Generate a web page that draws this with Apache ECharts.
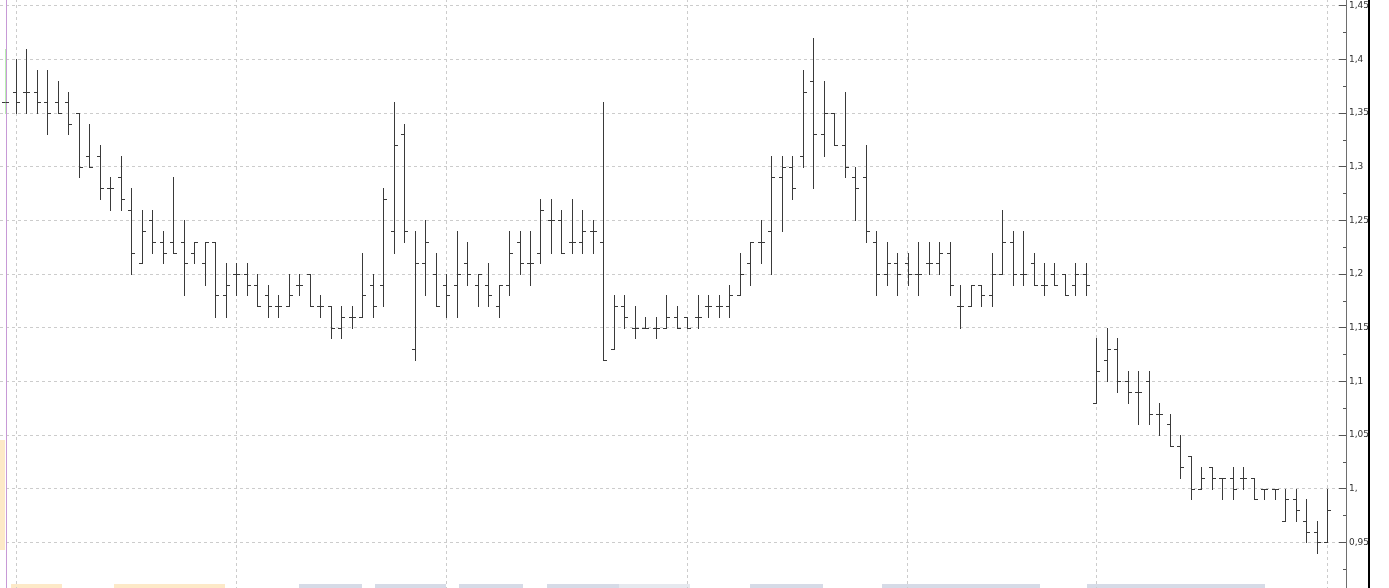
<!DOCTYPE html>
<html>
<head>
<meta charset="utf-8">
<script src="https://cdn.jsdelivr.net/npm/echarts@6/dist/echarts.min.js"></script>
<style>
html,body{margin:0;padding:0;background:#fff;overflow:hidden;width:1389px;height:588px;}
#chart{position:absolute;left:0;top:-48px;width:1389px;height:644px;}
</style>
</head>
<body>
<div id="chart"></div>
<script>
// Daily OHLC values (one entry per trading day)
const opens = [1.36,1.37,1.37,1.37,1.36,1.36,1.36,1.35,1.31,1.31,1.28,1.29,1.26,1.21,1.25,1.23,1.23,1.23,1.22,1.21,
  1.23,1.18,1.20,1.20,1.19,1.18,1.17,1.17,1.19,1.20,1.17,1.17,1.15,1.16,1.16,1.19,1.19,1.24,1.33,1.13,
  1.21,1.20,1.19,1.19,1.21,1.19,1.19,1.17,1.19,1.23,1.21,1.22,1.25,1.25,1.23,1.23,1.24,1.23,1.13,1.17,
  1.15,1.15,1.15,1.15,1.16,1.16,1.16,1.17,1.17,1.17,1.18,1.21,1.23,1.24,1.29,1.30,1.31,1.38,1.33,1.35,
  1.32,1.29,1.29,1.23,1.20,1.21,1.21,1.20,1.21,1.21,1.22,1.17,1.17,1.19,1.18,1.20,1.23,1.20,1.21,1.19,
  1.20,1.20,1.19,1.20,1.08,1.12,1.13,1.10,1.09,1.10,1.07,1.06,1.04,1.03,1.00,1.02,1.01,1.01,1.01,1.01,
  1.00,1.00,0.97,0.99,0.97,0.96,0.95];
const highs = [1.41,1.40,1.41,1.39,1.39,1.38,1.37,1.35,1.34,1.32,1.29,1.31,1.28,1.26,1.26,1.24,1.29,1.25,1.23,1.23,
  1.23,1.21,1.21,1.21,1.20,1.19,1.18,1.20,1.20,1.20,1.18,1.17,1.17,1.17,1.22,1.20,1.28,1.36,1.34,1.24,
  1.25,1.22,1.20,1.24,1.23,1.20,1.21,1.19,1.24,1.24,1.24,1.27,1.27,1.26,1.27,1.26,1.25,1.36,1.18,1.18,
  1.17,1.16,1.16,1.18,1.17,1.16,1.18,1.18,1.18,1.19,1.22,1.23,1.25,1.31,1.31,1.31,1.39,1.42,1.38,1.35,
  1.37,1.30,1.32,1.24,1.23,1.22,1.22,1.23,1.23,1.23,1.23,1.19,1.19,1.19,1.22,1.26,1.24,1.24,1.22,1.21,
  1.21,1.20,1.21,1.21,1.14,1.15,1.14,1.11,1.11,1.11,1.08,1.07,1.05,1.03,1.02,1.02,1.01,1.02,1.02,1.01,
  1.00,1.00,1.00,1.00,0.99,0.97,1.00];
const lows = [1.35,1.35,1.35,1.35,1.33,1.35,1.33,1.29,1.30,1.27,1.26,1.26,1.20,1.21,1.22,1.21,1.22,1.18,1.21,1.19,
  1.16,1.16,1.18,1.18,1.17,1.16,1.16,1.17,1.18,1.17,1.16,1.14,1.14,1.15,1.16,1.16,1.17,1.22,1.23,1.12,
  1.18,1.17,1.16,1.16,1.19,1.17,1.17,1.16,1.18,1.20,1.19,1.21,1.22,1.22,1.22,1.22,1.22,1.12,1.13,1.15,
  1.14,1.15,1.14,1.15,1.15,1.15,1.15,1.16,1.16,1.16,1.18,1.19,1.21,1.20,1.24,1.27,1.30,1.28,1.31,1.32,
  1.29,1.25,1.23,1.18,1.19,1.18,1.19,1.18,1.20,1.20,1.18,1.15,1.17,1.17,1.17,1.20,1.19,1.19,1.19,1.18,
  1.19,1.18,1.18,1.18,1.08,1.10,1.09,1.08,1.06,1.06,1.05,1.04,1.01,0.99,1.00,1.00,0.99,0.99,1.00,0.99,
  0.99,0.99,0.97,0.97,0.95,0.94,0.95];
const closes = [1.36,1.36,1.37,1.36,1.35,1.35,1.34,1.30,1.30,1.28,1.28,1.27,1.22,1.24,1.23,1.22,1.22,1.21,1.23,1.23,
  1.18,1.19,1.20,1.19,1.17,1.17,1.17,1.18,1.19,1.17,1.17,1.15,1.16,1.16,1.18,1.17,1.27,1.32,1.24,1.21,
  1.23,1.17,1.18,1.20,1.20,1.20,1.18,1.19,1.22,1.21,1.21,1.26,1.25,1.22,1.23,1.24,1.24,1.12,1.17,1.16,
  1.15,1.15,1.15,1.16,1.15,1.15,1.16,1.17,1.17,1.18,1.20,1.23,1.23,1.29,1.30,1.28,1.37,1.33,1.35,1.32,
  1.30,1.28,1.24,1.20,1.21,1.20,1.20,1.20,1.21,1.22,1.19,1.17,1.19,1.18,1.20,1.23,1.20,1.20,1.19,1.19,
  1.19,1.18,1.20,1.19,1.11,1.13,1.10,1.09,1.09,1.07,1.07,1.04,1.02,1.00,1.01,1.01,1.01,1.00,1.01,0.99,
  1.00,1.00,0.99,0.98,0.96,0.95,0.98];
// Indices of the first trading day of each month (vertical grid lines)
const monthStarts = [1, 22, 42, 65, 86, 104, 126];
// Price axis ticks
const priceMin = 0.9, priceMax = 1.5, priceStep = 0.05;

const ohlc = opens.map((o, i) => [i, o, highs[i], lows[i], closes[i]]);

function fmt(v) {
  let s = v.toFixed(2).replace(/0+$/, '');
  return s.replace('.', ',');
}

const OFF = 48; // the chart canvas starts 48px above the visible window
const chart = echarts.init(document.getElementById('chart'), null, {renderer: 'canvas'});
const barColor = '#3a3a3a';

function band(x, w, color) {
  return {type: 'rect', z: 1, shape: {x: x, y: OFF + 584, width: w, height: 4}, style: {fill: color}};
}

chart.setOption({
  animation: false,
  backgroundColor: '#ffffff',
  grid: {left: 0, right: 43, top: 0, bottom: 0, containLabel: false, outerBoundsMode: 'none'},
  xAxis: {
    type: 'value', min: -0.524, max: 127.79,
    axisLine: {show: false, onZero: false}, axisTick: {show: false}, axisLabel: {show: false}, splitLine: {show: false}
  },
  yAxis: {
    type: 'value', position: 'right', min: priceMin, max: priceMax, interval: priceStep,
    axisLine: {show: true, onZero: false, lineStyle: {color: '#6e6e6e', width: 1}},
    axisTick: {show: true, inside: true, length: 7, lineStyle: {color: '#555'}},
    minorTick: {show: true, splitNumber: 2, length: 3, lineStyle: {color: '#555'}},
    splitLine: {show: true, lineStyle: {color: '#cccccc', type: [3, 3], width: 1}},
    axisLabel: {
      show: true, margin: 3, fontSize: 9, color: '#333',
      fontFamily: 'DejaVu Sans, Verdana, sans-serif',
      formatter: fmt
    }
  },
  graphic: [
    {type: 'rect', z: 1, shape: {x: 6, y: 0, width: 1, height: 700}, style: {fill: '#c79ad6'}},
    {type: 'rect', z: 1, shape: {x: 0, y: OFF + 440, width: 5, height: 110}, style: {fill: '#fde9c8'}},
    band(11, 51, '#fde9c8'),
    band(114, 111, '#fde9c8'),
    band(299, 63, '#d6dbe7'),
    band(375, 71, '#d6dbe7'),
    band(459, 64, '#d6dbe7'),
    band(547, 72, '#d6dbe7'),
    band(619, 71, '#e6e9ef'),
    band(750, 73, '#d6dbe7'),
    band(882, 158, '#d6dbe7'),
    band(1087, 178, '#d6dbe7'),
    {type: 'rect', z: 100, shape: {x: 1370, y: 0, width: 19, height: 700}, style: {fill: '#ffffff'}},
    {type: 'rect', z: 101, shape: {x: 1368, y: 0, width: 2, height: 700}, style: {fill: '#000000'}}
  ],
  series: [{
    type: 'custom',
    z: 3,
    data: ohlc,
    encode: {x: 0, y: [1, 2, 3, 4]},
    clip: false,
    renderItem: function (params, api) {
      const i = api.value(0);
      const pH = api.coord([i, api.value(2)]);
      const pL = api.coord([i, api.value(3)]);
      const pO = api.coord([i, api.value(1)]);
      const pC = api.coord([i, api.value(4)]);
      const x = Math.round(pH[0]) + 0.5;
      const yO = Math.round(pO[1]) + 0.5;
      const yC = Math.round(pC[1]) + 0.5;
      const vColor = params.dataIndex === 0 ? '#b8f0b0' : barColor;
      return {
        type: 'group',
        children: [
          {type: 'line', shape: {x1: x, y1: Math.round(pH[1]), x2: x, y2: Math.round(pL[1]) + 1},
            style: {stroke: vColor, lineWidth: 1}},
          {type: 'line', shape: {x1: x - 3.5, y1: yO, x2: x, y2: yO}, style: {stroke: barColor, lineWidth: 1}},
          {type: 'line', shape: {x1: x, y1: yC, x2: x + 3.5, y2: yC}, style: {stroke: barColor, lineWidth: 1}}
        ]
      };
    },
    markLine: {
      silent: true,
      z: 1,
      symbol: 'none',
      label: {show: false},
      lineStyle: {color: '#cccccc', type: [3, 3], width: 1},
      data: monthStarts.map(m => ({xAxis: m}))
    }
  }]
});
</script>
</body>
</html>
